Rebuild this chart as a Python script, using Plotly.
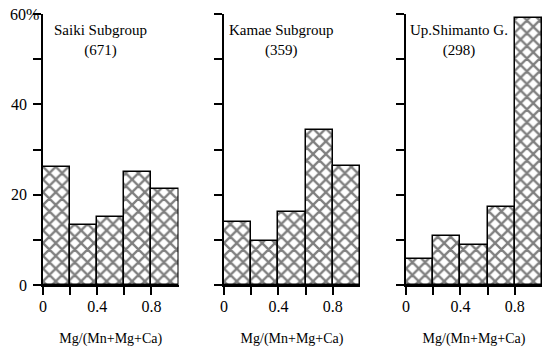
import plotly.graph_objects as go

bin_centers = [0.1, 0.3, 0.5, 0.7, 0.9]
bin_width = 0.2
saiki = [26.2, 13.2, 15.1, 25.1, 21.2]
kamae = [13.9, 9.7, 16.2, 34.3, 26.3]
shimanto = [5.7, 10.8, 8.8, 17.2, 59.2]
panel_titles = ["Saiki Subgroup<br>(671)", "Kamae Subgroup<br>(359)", "Up.Shimanto G.<br>(298)"]
x_tickvals = [0, 0.2, 0.4, 0.6, 0.8]
x_ticktext = ["0", "", "0.4", "", "0.8"]
y_tickvals = [0, 10, 20, 30, 40, 50, 60]
y_ticktext = ["0", "", "20", "", "40", "", ""]
y_top_label = "60%"
x_title = "Mg/(Mn+Mg+Ca)"

W, H = 543, 347
FONT = "Liberation Serif"

fig = go.Figure()
series = [saiki, kamae, shimanto]
xdomains = [(43 / W, 178.5 / W), (224 / W, 360 / W), (406 / W, 542 / W)]
title_centers = [100, 281, 459]
ydom = ((H - 285) / H, (H - 14) / H)

for i, vals in enumerate(series):
    n = "" if i == 0 else str(i + 1)
    fig.add_trace(go.Bar(
        x=bin_centers, y=vals, width=bin_width,
        xaxis="x" + n, yaxis="y" + n,
        marker=dict(color="white", line=dict(color="black", width=1.5),
                    pattern=dict(shape="x", fgcolor="black", bgcolor="white",
                                 size=9, solidity=0.45)),
        showlegend=False, hoverinfo="skip",
    ))
    fig.update_layout(**{
        "xaxis" + n: dict(domain=xdomains[i], range=[0, 1.0], anchor="y" + n,
                          automargin=False,
                          tickvals=x_tickvals, ticktext=x_ticktext,
                          ticks="outside", ticklen=8, tickwidth=1.5, tickcolor="black",
                          showline=True, linecolor="black", linewidth=1.5,
                          showgrid=False, zeroline=False, ticklabelstandoff=-2,
                          tickfont=dict(family=FONT, size=16, color="black"),
                          title=dict(text=x_title, standoff=19,
                                     font=dict(family=FONT, size=14, color="black"))),
        "yaxis" + n: dict(domain=ydom, range=[0, 60], anchor="x" + n,
                          automargin=False,
                          tickvals=y_tickvals, ticktext=y_ticktext,
                          showticklabels=(i == 0),
                          ticks="outside", ticklen=8, tickwidth=1.5, tickcolor="black",
                          showline=True, linecolor="black", linewidth=1.5,
                          showgrid=False, zeroline=False, ticklabelstandoff=3,
                          tickfont=dict(family=FONT, size=16, color="black")),
    })
    fig.add_annotation(text=panel_titles[i], xref="paper", yref="paper",
                       x=title_centers[i] / W, y=(H - 20) / H,
                       xanchor="center", yanchor="top", showarrow=False,
                       align="center",
                       font=dict(family=FONT, size=15, color="black"))

fig.add_annotation(text=y_top_label, xref="paper", yref="y", x=8 / W, y=60,
                   xanchor="left", yanchor="middle", showarrow=False,
                   font=dict(family=FONT, size=16, color="black"))

fig.update_layout(width=W, height=H, margin=dict(l=0, r=0, t=0, b=0, autoexpand=False),
                  paper_bgcolor="white", plot_bgcolor="white", bargap=0)
fig.write_html("out.html", config={"displayModeBar": False},
               post_script="document.body.style.margin='0px';")
